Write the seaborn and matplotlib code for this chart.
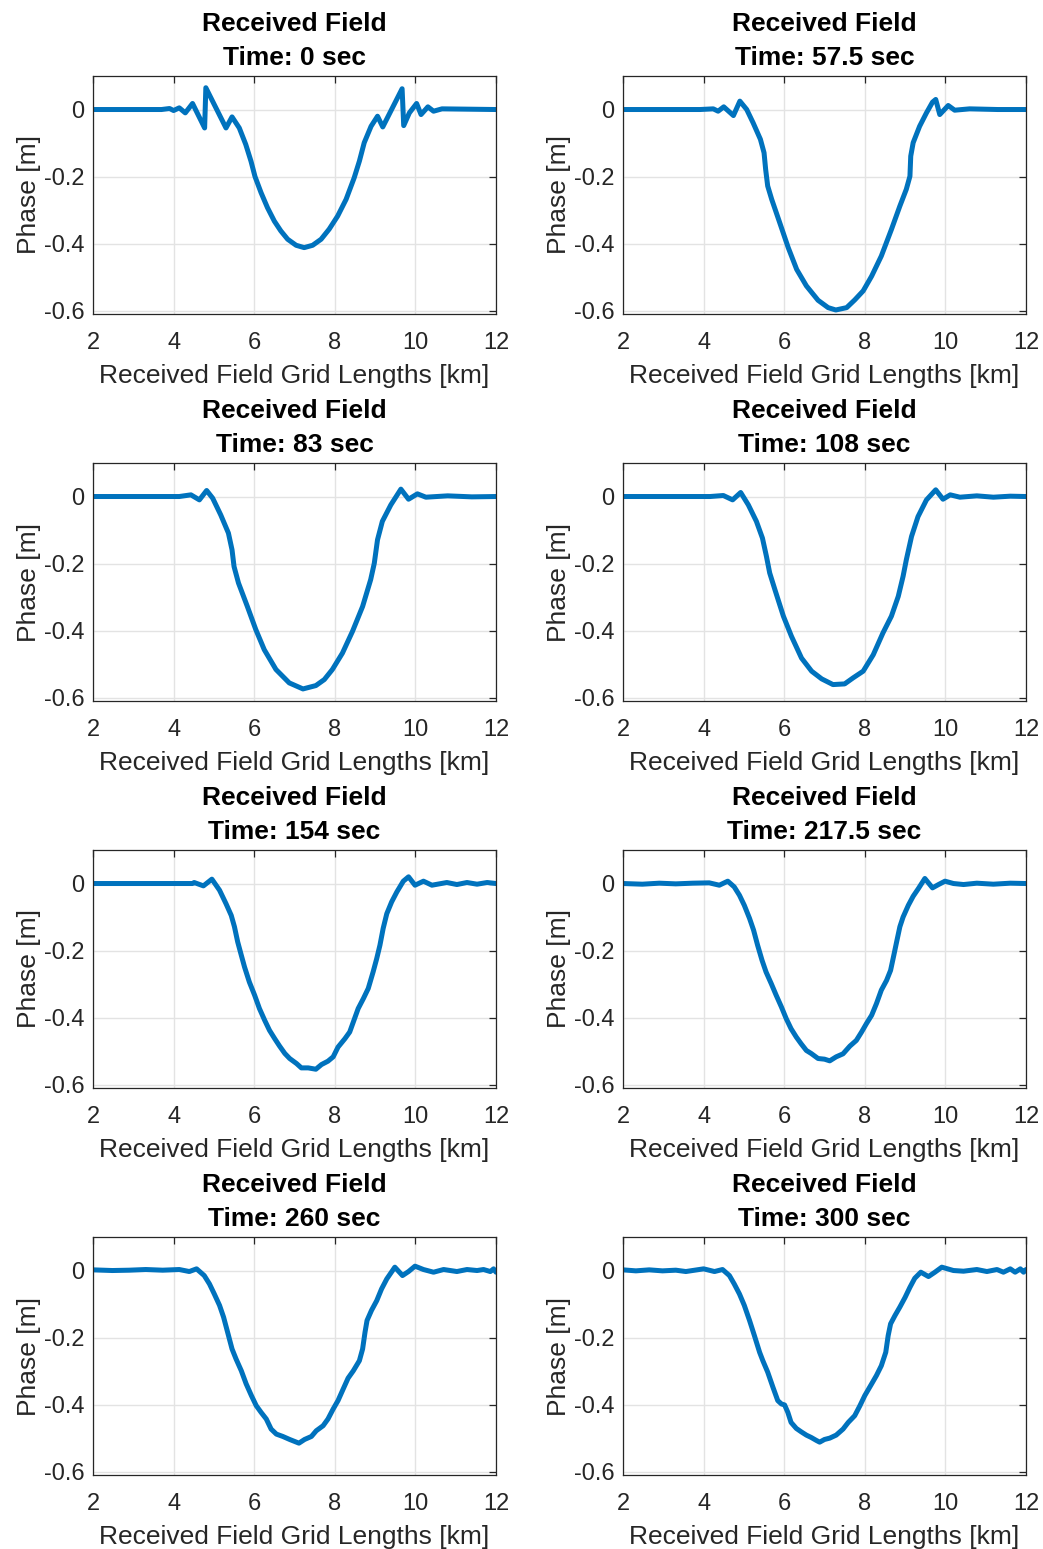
import matplotlib
matplotlib.use("Agg")
import matplotlib.pyplot as plt
import seaborn as sns
import pandas as pd

# ---------------- data ----------------
times = ["0", "57.5", "83", "108", "154", "217.5", "260", "300"]

x_t0 = [2.0, 3.7, 3.9, 4.0, 4.14, 4.29, 4.47, 4.77, 4.80, 5.30, 5.45, 5.63, 5.79, 5.92, 6.02,
        6.17, 6.33, 6.50, 6.66, 6.83, 7.04, 7.24, 7.45, 7.66, 7.86, 8.07, 8.28, 8.48, 8.61,
        8.73, 8.90, 9.06, 9.19, 9.67, 9.71, 9.85, 10.03, 10.14, 10.31, 10.45, 10.66, 12.0]
y_t0 = [0.0, 0.0, 0.003, -0.003, 0.005, -0.01, 0.018, -0.055, 0.065, -0.055, -0.022, -0.055,
        -0.104, -0.154, -0.2, -0.248, -0.293, -0.333, -0.362, -0.387, -0.405, -0.412, -0.405,
        -0.387, -0.357, -0.318, -0.268, -0.204, -0.154, -0.099, -0.05, -0.02, -0.052, 0.062,
        -0.048, -0.01, 0.018, -0.015, 0.008, -0.005, 0.002, 0.0]

x_t57 = [2.0, 3.91, 4.24, 4.36, 4.50, 4.74, 4.90, 5.07, 5.23, 5.41, 5.50, 5.54, 5.59, 5.69,
         5.89, 6.10, 6.31, 6.55, 6.84, 7.09, 7.28, 7.55, 7.75, 7.96, 8.17, 8.41, 8.66, 8.87,
         9.03, 9.12, 9.14, 9.20, 9.36, 9.53, 9.68, 9.76, 9.86, 10.07, 10.23, 10.6, 11.3, 12.0]
y_t57 = [0.0, 0.0, 0.002, -0.005, 0.008, -0.018, 0.025, 0.0, -0.04, -0.089, -0.129, -0.179,
         -0.228, -0.268, -0.338, -0.412, -0.477, -0.526, -0.569, -0.591, -0.598, -0.591,
         -0.568, -0.541, -0.497, -0.437, -0.358, -0.288, -0.238, -0.199, -0.139, -0.099,
         -0.05, -0.01, 0.022, 0.03, -0.015, 0.012, -0.002, 0.002, 0.0, 0.0]

x_t83 = [2.0, 4.14, 4.43, 4.64, 4.82, 4.97, 5.17, 5.36, 5.45, 5.50, 5.61, 5.83, 6.04, 6.25,
         6.54, 6.87, 7.21, 7.53, 7.74, 7.94, 8.19, 8.44, 8.69, 8.89, 8.98, 9.06, 9.18, 9.39,
         9.64, 9.83, 10.05, 10.26, 10.8, 11.4, 12.0]
y_t83 = [0.0, 0.0, 0.005, -0.01, 0.018, -0.005, -0.055, -0.109, -0.159, -0.209, -0.258,
         -0.328, -0.397, -0.457, -0.516, -0.556, -0.574, -0.564, -0.546, -0.516, -0.467,
         -0.402, -0.328, -0.248, -0.199, -0.129, -0.074, -0.025, 0.022, -0.008, 0.008,
         -0.002, 0.002, -0.001, 0.0]

x_t108 = [2.0, 4.16, 4.49, 4.72, 4.92, 5.11, 5.31, 5.46, 5.56, 5.64, 5.77, 5.98, 6.18, 6.43,
          6.68, 6.93, 7.21, 7.50, 7.71, 7.96, 8.21, 8.45, 8.66, 8.83, 8.95, 9.03, 9.16, 9.32,
          9.53, 9.76, 9.94, 10.12, 10.36, 10.78, 11.19, 11.61, 12.0]
y_t108 = [0.0, 0.0, 0.003, -0.01, 0.012, -0.025, -0.074, -0.124, -0.179, -0.228, -0.278,
          -0.357, -0.417, -0.482, -0.521, -0.544, -0.561, -0.559, -0.541, -0.521, -0.472,
          -0.407, -0.357, -0.298, -0.238, -0.189, -0.119, -0.06, -0.01, 0.02, -0.008, 0.005,
          -0.002, 0.002, -0.002, 0.001, 0.0]

x_t154 = [2.0, 4.47, 4.51, 4.74, 4.95, 5.14, 5.30, 5.43, 5.51, 5.59, 5.68, 5.76, 5.88, 6.01,
          6.13, 6.26, 6.38, 6.51, 6.63, 6.76, 6.88, 7.05, 7.17, 7.34, 7.53, 7.67, 7.83, 7.96,
          8.08, 8.25, 8.37, 8.46, 8.58, 8.71, 8.83, 8.95, 9.04, 9.12, 9.20, 9.29, 9.41, 9.54,
          9.70, 9.83, 9.99, 10.20, 10.41, 10.78, 11.03, 11.28, 11.53, 11.78, 12.0]
y_t154 = [0.0, 0.0, 0.003, -0.007, 0.013, -0.02, -0.06, -0.095, -0.129, -0.174, -0.214,
          -0.249, -0.294, -0.333, -0.373, -0.408, -0.438, -0.463, -0.485, -0.507, -0.522,
          -0.537, -0.55, -0.55, -0.554, -0.54, -0.53, -0.517, -0.488, -0.463, -0.443, -0.413,
          -0.373, -0.343, -0.313, -0.264, -0.224, -0.184, -0.134, -0.09, -0.055, -0.025,
          0.007, 0.02, -0.005, 0.007, -0.005, 0.003, -0.003, 0.003, -0.002, 0.003, 0.0]

x_t217 = [2.0, 2.48, 2.90, 3.31, 3.73, 4.14, 4.39, 4.60, 4.76, 4.89, 5.01, 5.14, 5.24, 5.34,
          5.45, 5.55, 5.68, 5.80, 5.93, 6.05, 6.17, 6.30, 6.42, 6.55, 6.67, 6.84, 7.00, 7.13,
          7.29, 7.46, 7.63, 7.79, 7.92, 8.04, 8.17, 8.29, 8.41, 8.54, 8.64, 8.72, 8.79, 8.87,
          8.95, 9.08, 9.20, 9.33, 9.49, 9.68, 9.83, 9.99, 10.20, 10.45, 10.78, 11.19, 11.61,
          12.0]
y_t217 = [0.0, -0.002, 0.001, -0.001, 0.001, 0.002, -0.005, 0.007, -0.01, -0.035, -0.065,
          -0.104, -0.139, -0.184, -0.229, -0.264, -0.299, -0.333, -0.368, -0.403, -0.433,
          -0.458, -0.478, -0.498, -0.507, -0.522, -0.524, -0.529, -0.517, -0.508, -0.485,
          -0.468, -0.443, -0.418, -0.393, -0.358, -0.318, -0.289, -0.259, -0.214, -0.174,
          -0.129, -0.1, -0.065, -0.038, -0.015, 0.015, -0.013, -0.003, 0.007, 0.0, -0.003,
          0.001, -0.002, 0.001, 0.0]

x_t260 = [2.0, 2.48, 2.90, 3.31, 3.73, 4.14, 4.39, 4.57, 4.76, 4.89, 5.01, 5.14, 5.24, 5.34,
          5.45, 5.55, 5.68, 5.80, 5.93, 6.05, 6.17, 6.30, 6.42, 6.55, 6.71, 6.88, 7.11, 7.25,
          7.42, 7.54, 7.71, 7.83, 7.96, 8.08, 8.21, 8.33, 8.46, 8.61, 8.69, 8.75, 8.80, 8.91,
          9.04, 9.16, 9.29, 9.49, 9.68, 9.83, 9.99, 10.20, 10.45, 10.70, 11.03, 11.28, 11.53,
          11.69, 11.86, 11.94, 12.0]
y_t260 = [0.002, 0.0, 0.001, 0.003, 0.001, 0.003, -0.003, 0.005, -0.015, -0.04, -0.07, -0.104,
          -0.139, -0.184, -0.234, -0.264, -0.299, -0.338, -0.373, -0.403, -0.423, -0.443,
          -0.473, -0.488, -0.495, -0.504, -0.515, -0.504, -0.495, -0.478, -0.463, -0.443,
          -0.413, -0.388, -0.353, -0.321, -0.299, -0.269, -0.234, -0.184, -0.149, -0.119,
          -0.09, -0.055, -0.025, 0.01, -0.015, -0.003, 0.013, 0.003, -0.005, 0.003, -0.003,
          0.003, 0.0, 0.003, -0.003, 0.005, -0.005]

x_t300 = [2.0, 2.32, 2.65, 2.98, 3.31, 3.56, 4.0, 4.27, 4.47, 4.64, 4.76, 4.89, 5.01, 5.14,
          5.26, 5.39, 5.47, 5.59, 5.72, 5.84, 5.93, 6.01, 6.09, 6.17, 6.30, 6.42, 6.55, 6.67,
          6.80, 6.88, 7.00, 7.13, 7.29, 7.46, 7.59, 7.75, 7.88, 8.00, 8.17, 8.29, 8.41, 8.52,
          8.58, 8.64, 8.75, 8.87, 9.00, 9.12, 9.24, 9.39, 9.58, 9.74, 9.91, 10.20, 10.45,
          10.78, 11.03, 11.28, 11.44, 11.61, 11.73, 11.86, 11.94, 12.0]
y_t300 = [0.002, -0.001, 0.002, -0.001, 0.001, -0.003, 0.005, -0.003, 0.003, -0.015, -0.04,
          -0.07, -0.104, -0.149, -0.194, -0.244, -0.269, -0.303, -0.348, -0.388, -0.398,
          -0.401, -0.423, -0.453, -0.471, -0.481, -0.491, -0.498, -0.507, -0.512, -0.504,
          -0.5, -0.491, -0.473, -0.453, -0.433, -0.403, -0.373, -0.338, -0.313, -0.284,
          -0.244, -0.194, -0.159, -0.134, -0.109, -0.08, -0.05, -0.023, -0.005, -0.018,
          -0.005, 0.01, 0.0, -0.002, 0.003, -0.003, 0.003, -0.005, 0.005, -0.005, 0.005,
          -0.005, 0.003]

series_x = [x_t0, x_t57, x_t83, x_t108, x_t154, x_t217, x_t260, x_t300]
series_y = [y_t0, y_t57, y_t83, y_t108, y_t154, y_t217, y_t260, y_t300]

x_ticks = [2, 4, 6, 8, 10, 12]
y_ticks = [-0.6, -0.4, -0.2, 0]
y_tick_labels = ["-0.6", "-0.4", "-0.2", "0"]

# ---------------- style ----------------
sns.set_theme(style="white")
plt.rcParams["font.family"] = ["Liberation Sans", "DejaVu Sans"]
plt.rcParams["axes.unicode_minus"] = False

W, H = 1043, 1549
fig = plt.figure(figsize=(W / 100, H / 100), dpi=100)
fig.patch.set_facecolor("white")

line_color = "#0072BD"
txt_color = "#262626"
col_left = [93, 623]
ax_w, ax_h = 403, 238
row_top = [76, 463, 850, 1237]

for i in range(8):
    r, c = divmod(i, 2)
    left = col_left[c] / W
    bottom = 1 - (row_top[r] + ax_h) / H
    ax = fig.add_axes([left, bottom, ax_w / W, ax_h / H])
    df = pd.DataFrame({"x": series_x[i], "y": series_y[i]})
    sns.lineplot(data=df, x="x", y="y", ax=ax, color=line_color, linewidth=3.6,
                 sort=False, estimator=None)
    ax.lines[-1].set_solid_joinstyle("round")
    ax.lines[-1].set_solid_capstyle("round")
    ax.set_xlim(2, 12)
    ax.set_ylim(-0.61, 0.1)
    ax.set_xticks(x_ticks)
    ax.set_yticks(y_ticks)
    ax.set_yticklabels(y_tick_labels)
    ax.grid(True, color="#e3e3e3", linewidth=1.0)
    ax.set_axisbelow(True)
    for s in ax.spines.values():
        s.set_color("#262626")
        s.set_linewidth(0.9)
    ax.tick_params(direction="in", length=5, width=0.9, top=True, right=True,
                   labelsize=17, colors=txt_color)
    ax.tick_params(axis="x", pad=13)
    ax.tick_params(axis="y", pad=6)
    ax.set_xlabel("Received Field Grid Lengths [km]", fontsize=19, color=txt_color, labelpad=7)
    ax.set_ylabel("Phase [m]", fontsize=19, color=txt_color, labelpad=2)
    ax.set_title(f"Received Field\nTime: {times[i]} sec", fontsize=19, fontweight="bold",
                 color="black", pad=8, linespacing=1.5)

fig.savefig("out.png", dpi=100, facecolor="white")
